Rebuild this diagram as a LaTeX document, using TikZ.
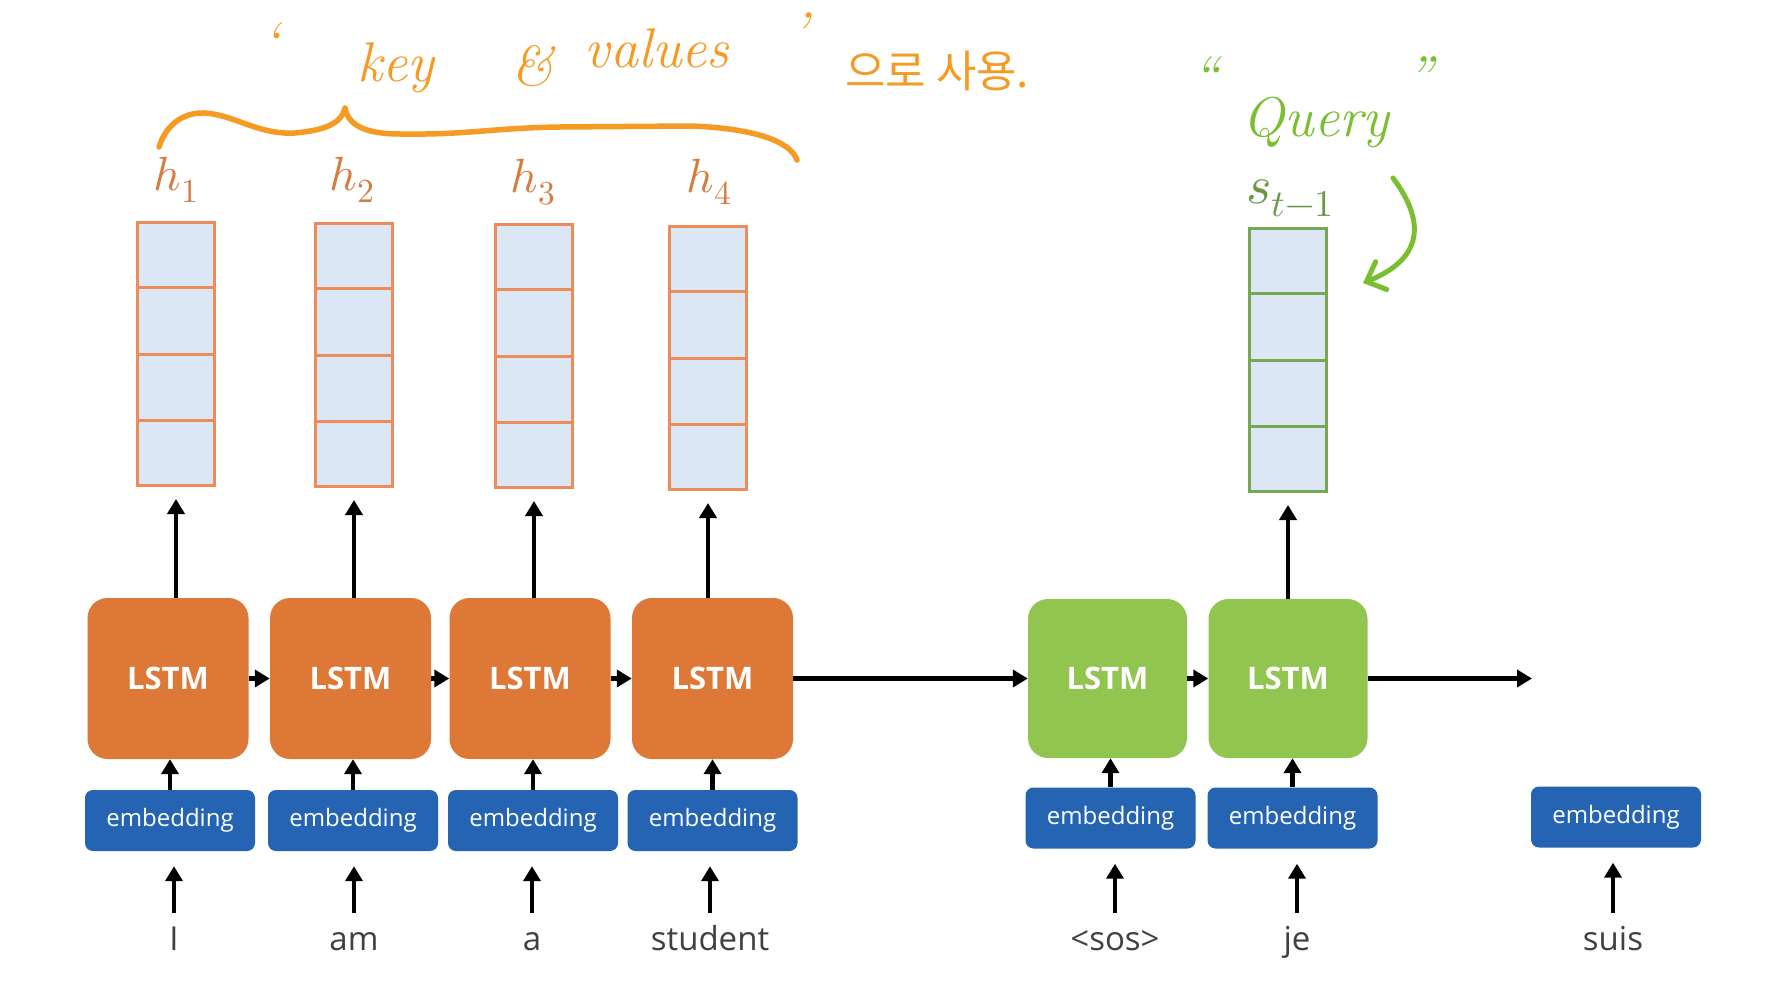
\documentclass[tikz,border=0pt]{standalone}
\usepackage{fontspec}
\usepackage{unicode-math}
\setmathfont{Latin Modern Math}
\newfontfamily\osans{Open Sans}
\newfontfamily\kor{Noto Sans CJK KR}
\usetikzlibrary{arrows.meta,calc}
\definecolor{lstmO}{RGB}{221,120,54}
\definecolor{lstmG}{RGB}{146,196,80}
\definecolor{embB}{RGB}{36,100,178}
\definecolor{cellF}{RGB}{219,231,244}
\definecolor{cellO}{RGB}{236,140,90}
\definecolor{cellG}{RGB}{118,168,82}
\definecolor{handO}{RGB}{245,155,35}
\definecolor{handG}{RGB}{122,190,50}
\definecolor{labO}{RGB}{214,124,64}
\definecolor{labG}{RGB}{108,150,72}
\definecolor{wordC}{RGB}{64,64,64}
\begin{document}
\begin{tikzpicture}[x=1pt,y=-1pt,
  arr/.style={line width=4.5pt,-{Triangle[length=15pt,width=17pt]}},
  lstmbox/.style={rounded corners=20pt,minimum width=161pt,minimum height=161pt,inner sep=0pt,
    text=white,font=\osans\bfseries\fontsize{31}{31}\selectfont},
  lstmO/.style={lstmbox,fill=lstmO},
  lstmG/.style={lstmbox,fill=lstmG,minimum width=159pt,minimum height=159pt},
  embbox/.style={rounded corners=8pt,fill=embB,minimum width=170pt,minimum height=61pt,inner sep=0pt,
    text=white,font=\osans\fontsize{24}{24}\selectfont},
  vec/.style={fill=cellF,draw=#1,line width=3pt,minimum width=77pt,minimum height=263pt,inner sep=0pt},
  wordnode/.style={text=wordC,font=\osans\fontsize{33}{33}\selectfont,text height=24pt,text depth=8pt,inner sep=0pt},
  hlab/.style={font=\fontsize{48}{48}\selectfont},
  hand/.style={font=\itshape\fontsize{56}{56}\selectfont,text=handO,inner sep=0pt,anchor=base},
]
\fill[white] (0,0) rectangle (1779,1000);
\path[use as bounding box] (0,0) rectangle (1779,1000);

% vectors
\node[vec=cellO] (v1) at (176,354) {};
\node[vec=cellO] (v2) at (354,355) {};
\node[vec=cellO] (v3) at (534,356) {};
\node[vec=cellO] (v4) at (708,358) {};
\node[vec=cellG] (vs) at (1288,360) {};
\foreach \v in {v1,v2,v3,v4}
  \foreach \f in {0.25,0.5,0.75}
    \draw[cellO,line width=3pt] ($(\v.north west)!\f!(\v.south west)$) -- ($(\v.north east)!\f!(\v.south east)$);
\foreach \f in {0.25,0.5,0.75}
  \draw[cellG,line width=3pt] ($(vs.north west)!\f!(vs.south west)$) -- ($(vs.north east)!\f!(vs.south east)$);

% labels
\node[hlab,text=labO] (h1) at (176,180) {$h_1$};
\node[hlab,text=labO] (h2) at (352,180) {$h_2$};
\node[hlab,text=labO] (h3) at (533,182) {$h_3$};
\node[hlab,text=labO] (h4) at (709,182) {$h_4$};
\node[hlab,text=labG,font=\fontsize{54}{54}\selectfont] (hs) at (1290,198) {$s_{t-1}$};

% LSTMs
\node[lstmO] (l1) at (168,678.5) {LSTM};
\node[lstmO] (l2) at (350.5,678.5) {LSTM};
\node[lstmO] (l3) at (530,678.5) {LSTM};
\node[lstmO] (l4) at (712.5,678.5) {LSTM};
\node[lstmG] (g1) at (1107.5,678.5) {LSTM};
\node[lstmG] (g2) at (1288,678.5) {LSTM};
\coordinate (gend) at (1532,678.5);

% embeddings
\node[embbox] (e1) at (170,820.5) {embedding};
\node[embbox] (e2) at (353,820.5) {embedding};
\node[embbox] (e3) at (533,820.5) {embedding};
\node[embbox] (e4) at (712.5,820.5) {embedding};
\node[embbox] (e5) at (1110.5,818) {embedding};
\node[embbox] (e6) at (1292.5,818) {embedding};
\node[embbox] (e7) at (1616,817) {embedding};

% words
\node[wordnode] (w1) at (174,942) {I};
\node[wordnode] (w2) at (354,942) {am};
\node[wordnode] (w3) at (532,942) {a};
\node[wordnode] (w4) at (710,942) {student};
\node[wordnode] (w5) at (1115,942) {<sos>};
\node[wordnode] (w6) at (1297,942) {je};
\node[wordnode] (w7) at (1613,942) {suis};

% arrows word -> embedding
\foreach \w/\e in {w1/e1,w2/e2,w3/e3,w4/e4,w5/e5,w6/e6,w7/e7}
  \draw[arr,shorten <=13pt,shorten >=15pt] (\w.north) -- (\w.north |- \e.south);
% embedding -> LSTM
\foreach \e/\l in {e1/l1,e2/l2,e3/l3,e4/l4,e5/g1,e6/g2}
  \draw[arr] (\e.north) -- (\e.north |- \l.south);
% LSTM -> vectors
\foreach \l/\v in {l1/v1,l2/v2,l3/v3,l4/v4,g2/vs}
  \draw[arr,shorten >=12pt] (\v.south |- \l.north) -- (\v.south);
% horizontal
\draw[arr] (l1.east) -- (l2.west);
\draw[arr] (l2.east) -- (l3.west);
\draw[arr] (l3.east) -- (l4.west);
\draw[arr] (l4.east) -- (g1.west);
\draw[arr] (g1.east) -- (g2.west);
\draw[arr] (g2.east) -- (gend);

% handwriting: key & values
\node[hand] (q1) at (271,62) {‘};
\node[hand] (tkey) at (396,82) {key};
\node[hand] (tamp) at (532,86) {\&};
\node[hand] (tval) at (657,68) {values};
\node[hand] (q2) at (800,52) {’};
\node[hand,anchor=base west,font=\kor\fontsize{44}{44}\selectfont] (tkor) at (845,88) {으로 사용.};
\draw[handO,line width=5.5pt,line cap=round,line join=round]
  (159,147) .. controls (165,128) and (180,112) .. (205,113)
  .. controls (235,115) and (258,135) .. (295,133)
  .. controls (328,130) and (342,122) .. (345,108)
  .. controls (348,125) and (365,134) .. (400,134)
  .. controls (470,135) and (490,128) .. (560,127)
  -- (690,126)
  .. controls (750,128) and (790,140) .. (797,160);

% handwriting: Query
\node[hand,text=handG] (q3) at (1206,96) {“};
\node[hand,text=handG] (tq) at (1316,137) {Query};
\node[hand,text=handG] (q4) at (1420,96) {”};
\coordinate (qa) at (1393,178);
\coordinate (qb) at (1363,283);
\draw[handG,line width=5pt,line cap=round,-{Straight Barb[length=16pt,width=30pt,line cap=round]}]
  (qa) .. controls (1428,225) and (1420,260) .. (qb);
\end{tikzpicture}
\end{document}
